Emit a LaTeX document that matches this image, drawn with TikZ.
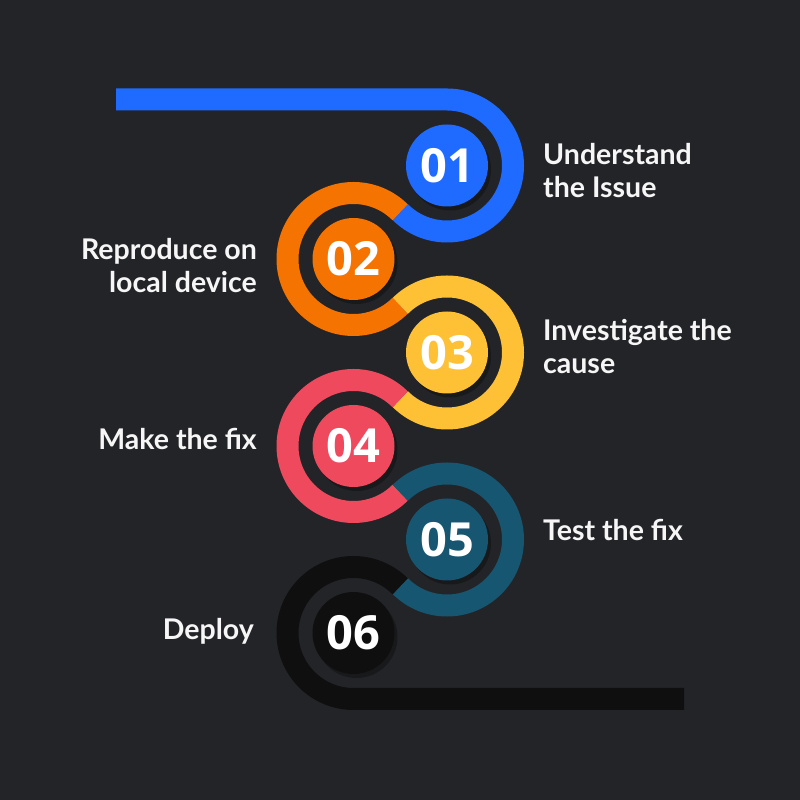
\documentclass[tikz,border=0pt]{standalone}
\usepackage{fontspec}
\setmainfont{Lato}
\newfontfamily\numfont{Open Sans}
\usepackage{tikz}
\usetikzlibrary{shadows}
\definecolor{bgdark}{HTML}{232428}
\definecolor{stepblue}{HTML}{1F6BFF}
\definecolor{steporange}{HTML}{F57300}
\definecolor{stepyellow}{HTML}{FEC136}
\definecolor{stepred}{HTML}{EF495E}
\definecolor{stepteal}{HTML}{175670}
\definecolor{stepblack}{HTML}{0F0F10}
\definecolor{txtwhite}{HTML}{F6F6F6}
\tikzset{
  band/.style={line width=22pt, line cap=butt},
  numdisc/.style={circle, minimum size=82pt, inner sep=0pt, text=white,
    font=\numfont\fontsize{47}{50}\selectfont\bfseries,
    drop shadow={shadow xshift=3pt, shadow yshift=-4pt, fill=black, opacity=0.3}},
  lbl/.style={text=txtwhite, inner sep=0pt,
    font=\fontsize{28.5}{33.5}\selectfont\bfseries}
}
\begin{document}
\begin{tikzpicture}[x=1pt, y=1pt]
      \fill [bgdark] (0, 0) rectangle (800, 800);
      % the winding band
      \draw [band, stepblue] (116, 700.5) -- (447, 700.5)
            arc [start angle=90, end angle=-135, radius=66];
      \draw [band, steporange] (353.5, 541) ++(45:66)
            arc [start angle=45, end angle=315, radius=66];
      \draw [band, stepyellow] (447, 447.5) ++(135:66)
            arc [start angle=135, end angle=-135, radius=66];
      \draw [band, stepred] (353.5, 354) ++(45:66)
            arc [start angle=45, end angle=315, radius=66];
      \draw [band, stepteal] (447, 260.5) ++(135:66)
            arc [start angle=135, end angle=-135, radius=66];
      \draw [band, stepblack] (353.5, 167) ++(45:66)
            arc [start angle=45, end angle=270, radius=66] -- (684, 101);
      % numbered discs
      \node [numdisc, fill=stepblue] (n1) at (447, 634.5) {01};
      \node [numdisc, fill=steporange] (n2) at (353.5, 541) {02};
      \node [numdisc, fill=stepyellow] (n3) at (447, 447.5) {03};
      \node [numdisc, fill=stepred] (n4) at (353.5, 354) {04};
      \node [numdisc, fill=stepteal] (n5) at (447, 260.5) {05};
      \node [numdisc, fill=stepblack] (n6) at (353.5, 167) {06};
      % labels (base = last line)
      \node [lbl, anchor=base west, align=left] (t1) at (543, 602) {Understand\\the Issue};
      \node [lbl, anchor=base east, align=right] (t2) at (257, 507) {Reproduce on\\local device};
      \node [lbl, anchor=base west, align=left] (t3) at (543, 426) {Investigate the\\cause};
      \node [lbl, anchor=base east] (t4) at (257, 350.7) {Make the fix};
      \node [lbl, anchor=base west] (t5) at (543, 259.3) {Test the fix};
      \node [lbl, anchor=base east] (t6) at (254, 160.7) {Deploy};
\end{tikzpicture}
\end{document}
